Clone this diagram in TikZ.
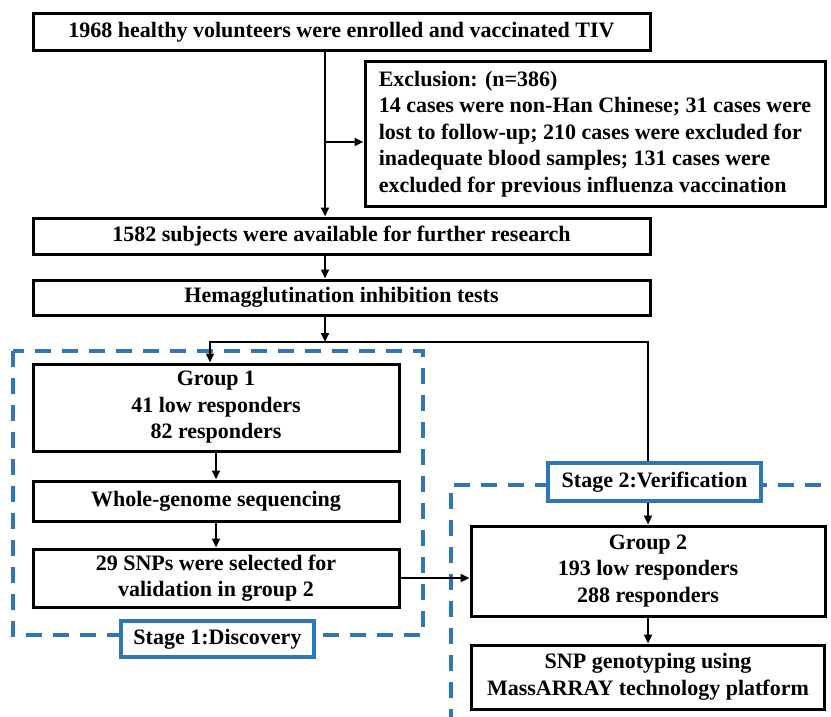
\documentclass[tikz,border=0pt]{standalone}
\usepackage{fontspec}
\setmainfont{Liberation Serif}
\usepackage{xcolor}
\usetikzlibrary{positioning,arrows.meta}
\definecolor{stageblue}{RGB}{46,117,182}

\begin{document}
\begin{tikzpicture}[
    x=1pt, y=-1pt,
    box/.style={rectangle, draw, line width=3pt, fill=white, align=center, inner sep=4pt, font=\bfseries\fontsize{22}{26.5}\selectfont},
    stagelabel/.style={rectangle, draw=stageblue, line width=3.4pt, fill=white, align=center, inner sep=4pt, font=\bfseries\fontsize{22}{26.5}\selectfont},
    stageframe/.style={draw=stageblue, line width=3.4pt, dash pattern=on 16pt off 11pt},
    arrow/.style={-{Triangle[length=9pt,width=8pt]}, line width=2.4pt},
    line/.style={line width=2.4pt}
]
\useasboundingbox (0,0) rectangle (831,717);

% dashed stage frames
\draw[stageframe] (13,351) rectangle (423,635);
\draw[stageframe] (451,725) -- (451,485) -- (840,485);

% enrolment and exclusion
\node[box, minimum width=617pt, minimum height=37pt] (start) at (341.5,32) {1968 healthy volunteers were enrolled and vaccinated TIV};
\node[box, align=left, minimum width=460pt, minimum height=144pt] (excl) at (595,134) {Exclusion: (n=386)\\14 cases were non-Han Chinese; 31 cases were\\lost to follow-up; 210 cases were excluded for\\inadequate blood samples; 131 cases were\\excluded for previous influenza vaccination};
\node[box, minimum width=617pt, minimum height=36pt] (avail) at (341.5,236) {1582 subjects were available for further research};
\node[box, minimum width=617pt, minimum height=35pt, below=23pt of avail] (hai) {Hemagglutination inhibition tests};

% stage 1
\node[box, minimum width=366pt, minimum height=87pt] (g1) at (216,407.5) {Group 1\\41 low responders\\82 responders};
\node[box, minimum width=366pt, minimum height=40pt, below=27pt of g1] (wgs) {Whole-genome sequencing};
\node[box, minimum width=366pt, minimum height=58pt, below=25pt of wgs] (snps) {29 SNPs were selected for\\validation in group 2};
\node[stagelabel, minimum width=193pt, minimum height=36pt] (s1) at (217.5,639) {Stage 1:Discovery};

% stage 2
\node[stagelabel, minimum width=213pt, minimum height=38pt] (s2) at (654.5,482) {Stage 2:Verification};
\node[box, minimum width=354pt, minimum height=90pt] (g2) at (648,571) {Group 2\\193 low responders\\288 responders};
\node[box, minimum width=353pt, minimum height=64pt, below=26pt of g2] (geno) {SNP genotyping using\\MassARRAY technology platform};

\coordinate (spine) at (325,0);
\coordinate (split) at (325,342);

\draw[arrow] (start.south -| spine) -- (avail.north -| spine);
\draw[arrow] ([yshift=-8pt]excl.west -| spine) -- ([yshift=-8pt]excl.west);
\draw[arrow] (avail.south -| spine) -- (hai.north -| spine);
\draw[arrow] (hai.south -| split) -- (split);
\draw[arrow] (split) -| ([xshift=-6pt]g1.north);
\draw[line] (split) -| (g2.north |- s2.north);
\draw[arrow] (s2.south -| g2.north) -- (g2.north);
\draw[arrow] (g1) -- (wgs);
\draw[arrow] (wgs) -- (snps);
\draw[arrow] (snps) -- (g2.west |- snps);
\draw[arrow] (g2) -- (geno);

\end{tikzpicture}
\end{document}
